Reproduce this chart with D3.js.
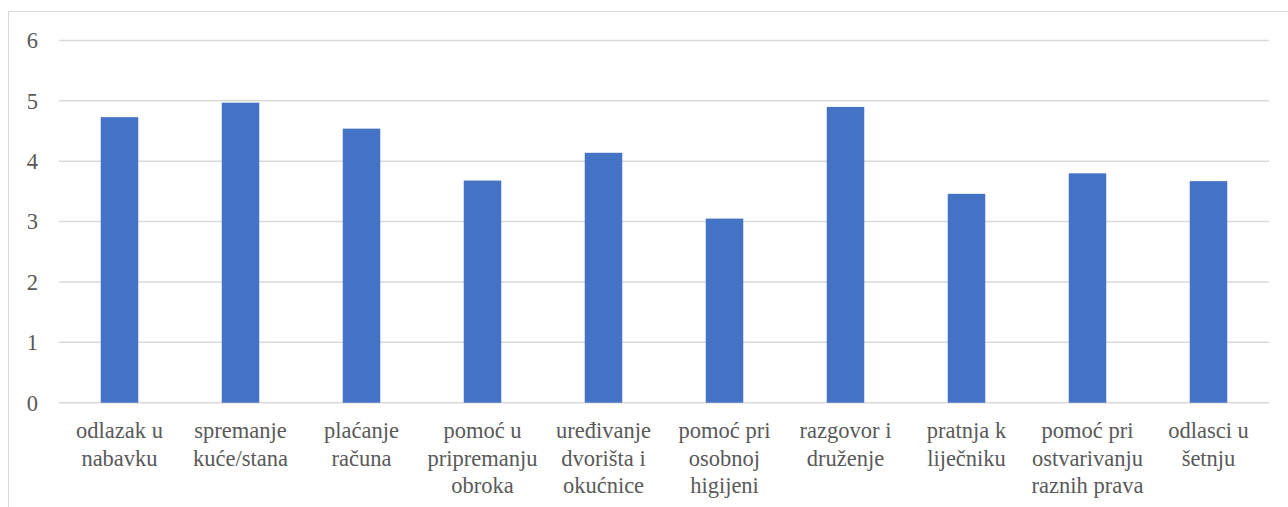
<!DOCTYPE html>
<html><head><meta charset="utf-8">
<script src="https://cdn.jsdelivr.net/npm/d3@7"></script>
<style>body{margin:0;background:#fff} svg text{font-family:"Liberation Serif","Times New Roman",Tinos,"DejaVu Serif",serif;}</style>
</head><body>
<svg id="c" width="1288" height="507"></svg>
<script>
const categories = [
  ["odlazak u","nabavku"],
  ["spremanje","kuće/stana"],
  ["plaćanje","računa"],
  ["pomoć u","pripremanju","obroka"],
  ["uređivanje","dvorišta i","okućnice"],
  ["pomoć pri","osobnoj","higijeni"],
  ["razgovor i","druženje"],
  ["pratnja k","liječniku"],
  ["pomoć pri","ostvarivanju","raznih prava"],
  ["odlasci u","šetnju"]
];
const values = [4.73, 4.97, 4.54, 3.68, 4.14, 3.05, 4.90, 3.46, 3.80, 3.67];
const yTicks = [0,1,2,3,4,5,6];

(function(){
const svg = d3.select("#c");
const mLeft = 59, mRight = 1269, mTop = 40.5, mBottom = 402.7;

svg.append("rect").attr("x",8.5).attr("y",11.5).attr("width",1300).attr("height",520)
  .attr("fill","none").attr("stroke","#d9d9d9").attr("stroke-width",1);

const x = d3.scaleBand().domain(d3.range(categories.length)).range([mLeft,mRight]).paddingInner(0.69).paddingOuter(0.345);
const y = d3.scaleLinear().domain([0,6]).range([mBottom, mTop]);

svg.append("g").selectAll("line").data(yTicks).join("line")
  .attr("x1",mLeft).attr("x2",mRight)
  .attr("y1",d=>y(d)).attr("y2",d=>y(d))
  .attr("stroke","#d9d9d9").attr("stroke-width",1.5);

svg.append("g").selectAll("rect").data(values).join("rect")
  .attr("x",(d,i)=>x(i)).attr("width",x.bandwidth())
  .attr("y",d=>y(d)).attr("height",d=>y(0)-y(d))
  .attr("fill","#4472c4");

svg.append("g").selectAll("text").data(yTicks).join("text")
  .attr("x",38).attr("y",d=>y(d)).attr("dy","0.35em")
  .attr("text-anchor","end").attr("font-size",22.5)
  .attr("fill","#595959").text(d=>d);

const lab = svg.append("g").selectAll("text").data(categories).join("text")
  .attr("x",(d,i)=>x(i)+x.bandwidth()/2).attr("y",438)
  .attr("text-anchor","middle").attr("font-size",22.5)
  .attr("fill","#595959");
lab.selectAll("tspan").data(d=>d).join("tspan")
  .attr("x",function(){return d3.select(this.parentNode).attr("x");})
  .attr("dy",(d,i)=>i===0?0:27.5).text(d=>d);
})();
</script>
</body></html>
